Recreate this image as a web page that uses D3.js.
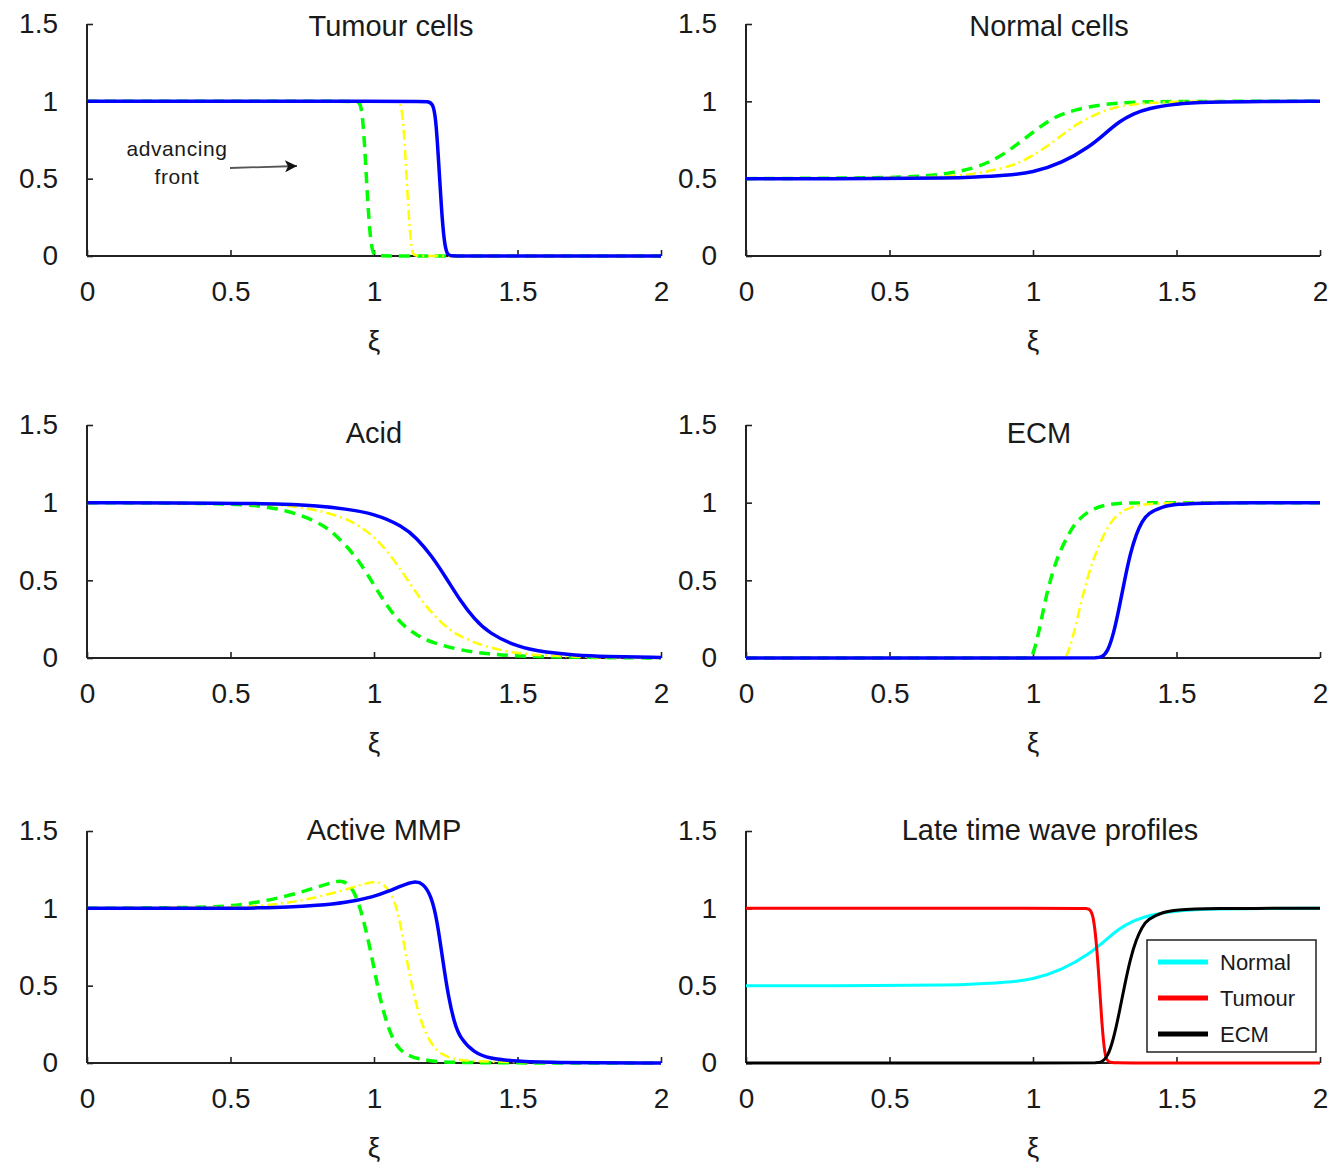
<!DOCTYPE html>
<html lang="en">
<head>
  <meta charset="UTF-8">
  <title>Travelling wave profiles</title>
  <style>
    body { margin: 0; background: #fff; }
    text { font-family: "Liberation Sans", Arial, sans-serif; fill: #1a1a1a; }
  </style>
</head>
<body>
  <div id="app"></div>
  <script src="https://cdn.jsdelivr.net/npm/d3@7"></script>
  <script>
    const xTicks = [0, 0.5, 1, 1.5, 2]
    const yTicks = [0, 0.5, 1, 1.5]
    const titles = ['Tumour cells', 'Normal cells', 'Acid', 'ECM', 'Active MMP', 'Late time wave profiles']
    const legendLabels = ['Normal', 'Tumour', 'ECM']

    // tumour cells
    const tumourEarly = [[0,1],[0.9,1],[0.94,1],[0.955,0.99],[0.965,0.8],[0.975,0.45],[0.985,0.15],[0.995,0.02],[1.005,0],[1.05,0],[2,0]]
    const tumourMid = [[0,1],[1.04,1],[1.08,1],[1.095,0.99],[1.105,0.8],[1.115,0.45],[1.125,0.15],[1.133,0.02],[1.14,0],[1.19,0],[2,0]]
    const tumourLate = [[0,1],[1.15,1],[1.19,1],[1.205,0.985],[1.215,0.9],[1.225,0.62],[1.235,0.3],[1.245,0.08],[1.255,0.01],[1.265,0],[1.3,0],[2,0]]

    // normal cells
    const normalEarly = [[0,0.5],[0.5,0.505],[0.6,0.515],[0.7,0.53],[0.8,0.57],[0.85,0.61],[0.9,0.66],[0.95,0.73],[1.0,0.8],[1.05,0.87],[1.1,0.92],[1.2,0.97],[1.3,0.99],[1.4,1],[2,1]]
    const normalMid = [[0,0.5],[0.6,0.505],[0.7,0.515],[0.8,0.53],[0.9,0.57],[0.95,0.6],[1.0,0.65],[1.05,0.71],[1.1,0.78],[1.15,0.85],[1.2,0.9],[1.25,0.94],[1.3,0.97],[1.4,0.99],[1.5,1],[2,1]]
    const normalLate = [[0,0.5],[0.5,0.5],[0.7,0.503],[0.8,0.51],[0.9,0.52],[1.0,0.54],[1.1,0.6],[1.2,0.71],[1.25,0.79],[1.3,0.87],[1.35,0.92],[1.4,0.955],[1.5,0.985],[1.6,0.995],[1.8,1],[2,1]]

    // acid
    const acidEarly = [[0,1],[0.5,0.995],[0.6,0.98],[0.7,0.95],[0.8,0.88],[0.85,0.82],[0.9,0.73],[0.95,0.62],[1.0,0.47],[1.05,0.32],[1.1,0.21],[1.15,0.145],[1.2,0.1],[1.3,0.05],[1.4,0.025],[1.5,0.012],[1.7,0.004],[2,0]]
    const acidMid = [[0,1],[0.6,0.995],[0.7,0.98],[0.8,0.955],[0.9,0.9],[0.95,0.85],[1.0,0.78],[1.05,0.68],[1.1,0.55],[1.15,0.41],[1.2,0.29],[1.25,0.2],[1.3,0.135],[1.4,0.065],[1.5,0.03],[1.6,0.014],[1.8,0.004],[2,0]]
    const acidLate = [[0,1],[0.5,0.998],[0.7,0.99],[0.8,0.98],[0.9,0.96],[1.0,0.93],[1.1,0.85],[1.15,0.77],[1.2,0.66],[1.25,0.52],[1.3,0.37],[1.35,0.25],[1.4,0.16],[1.5,0.07],[1.6,0.035],[1.7,0.018],[1.8,0.01],[2,0.003]]

    // ECM
    const ecmEarly = [[0,0],[0.95,0],[0.99,0],[1.0,0.02],[1.02,0.16],[1.04,0.35],[1.06,0.5],[1.08,0.62],[1.1,0.71],[1.125,0.8],[1.15,0.88],[1.2,0.955],[1.25,0.985],[1.3,0.997],[1.4,1],[2,1]]
    const ecmMid = [[0,0],[1.07,0],[1.11,0],[1.12,0.02],[1.14,0.14],[1.16,0.3],[1.18,0.45],[1.2,0.58],[1.22,0.68],[1.25,0.81],[1.28,0.9],[1.32,0.96],[1.38,0.99],[1.45,1],[2,1]]
    const ecmLate = [[0,0],[1.18,0],[1.22,0],[1.24,0.005],[1.26,0.04],[1.28,0.15],[1.3,0.32],[1.32,0.51],[1.34,0.68],[1.36,0.8],[1.38,0.88],[1.4,0.93],[1.45,0.975],[1.5,0.99],[1.6,1],[2,1]]

    // active MMP
    const mmpEarly = [[0,1],[0.4,1.005],[0.5,1.015],[0.6,1.04],[0.7,1.08],[0.8,1.135],[0.85,1.165],[0.88,1.18],[0.91,1.165],[0.94,1.08],[0.97,0.88],[1.0,0.62],[1.02,0.42],[1.05,0.22],[1.08,0.1],[1.12,0.04],[1.2,0.01],[1.3,0],[2,0]]
    const mmpMid = [[0,1],[0.5,1.005],[0.6,1.015],[0.7,1.035],[0.8,1.07],[0.9,1.12],[0.95,1.15],[1.0,1.175],[1.03,1.165],[1.06,1.1],[1.08,1.0],[1.1,0.82],[1.12,0.6],[1.15,0.35],[1.18,0.18],[1.22,0.07],[1.27,0.025],[1.35,0.005],[2,0]]
    const mmpLate = [[0,1],[0.5,1],[0.6,1.003],[0.7,1.008],[0.8,1.018],[0.9,1.035],[1.0,1.075],[1.05,1.11],[1.1,1.15],[1.14,1.175],[1.17,1.165],[1.2,1.08],[1.22,0.92],[1.24,0.66],[1.26,0.42],[1.28,0.26],[1.3,0.16],[1.35,0.065],[1.4,0.03],[1.5,0.01],[1.6,0.003],[2,0]]

    // late time profiles
    const lateNormal = normalLate
    const lateTumour = [[0,1],[1.15,1],[1.19,1],[1.2,0.99],[1.21,0.95],[1.22,0.8],[1.23,0.55],[1.24,0.25],[1.25,0.05],[1.26,0],[1.3,0],[2,0]]
    const lateEcm = ecmLate

    const styles = {
      early: { color: '#00ff00', width: 3.5, dash: '11,7' },
      mid: { color: '#ffff00', width: 2.5, dash: '10,4,2,4' },
      late: { color: '#0000ff', width: 3.5, dash: null },
      cyan: { color: '#00ffff', width: 3, dash: null },
      red: { color: '#ff0000', width: 3, dash: null },
      black: { color: '#000000', width: 3, dash: null },
    }

    const panels = [
      { col: 0, row: 0, title: titles[0], tx: 391, series: [[tumourEarly, 'early'], [tumourMid, 'mid'], [tumourLate, 'late']] },
      { col: 1, row: 0, title: titles[1], tx: 1049, series: [[normalEarly, 'early'], [normalMid, 'mid'], [normalLate, 'late']] },
      { col: 0, row: 1, title: titles[2], tx: 374, series: [[acidEarly, 'early'], [acidMid, 'mid'], [acidLate, 'late']] },
      { col: 1, row: 1, title: titles[3], tx: 1039, series: [[ecmEarly, 'early'], [ecmMid, 'mid'], [ecmLate, 'late']] },
      { col: 0, row: 2, title: titles[4], tx: 384, series: [[mmpEarly, 'early'], [mmpMid, 'mid'], [mmpLate, 'late']] },
      { col: 1, row: 2, title: titles[5], tx: 1050, series: [[lateNormal, 'cyan'], [lateTumour, 'red'], [lateEcm, 'black']] },
    ]

    const colX = [87, 746]
    const rowTop = [24, 425, 831]
    const rowBottom = [256, 658, 1063]
    const titleY = [36, 443, 840]
    const plotW = 574

    const svg = d3.select('#app').append('svg')
      .attr('width', 1336)
      .attr('height', 1166)

    svg.append('defs').append('marker')
      .attr('id', 'arrow')
      .attr('viewBox', '0 0 10 10')
      .attr('refX', 10).attr('refY', 5)
      .attr('markerWidth', 20).attr('markerHeight', 12)
      .attr('markerUnits', 'userSpaceOnUse')
      .attr('orient', 'auto')
      .append('path')
      .attr('d', 'M0,0 L10,5 L0,10 L2.5,5 Z')
      .attr('fill', '#111')

    panels.forEach((p, pi) => {
      const x0 = colX[p.col]
      const x = d3.scaleLinear().domain([0, 2]).range([x0, x0 + plotW])
      const y = d3.scaleLinear().domain([0, 1.5]).range([rowBottom[p.row], rowTop[p.row]])
      const g = svg.append('g')

      g.append('clipPath').attr('id', 'clip' + pi)
        .append('rect')
        .attr('x', x0 - 2).attr('y', rowTop[p.row] - 2)
        .attr('width', plotW + 4).attr('height', rowBottom[p.row] - rowTop[p.row] + 6)

      // axes, ticks inward
      const xAxis = g.append('g')
        .attr('transform', `translate(0,${rowBottom[p.row]})`)
        .call(d3.axisBottom(x).tickValues(xTicks).tickSize(-6).tickPadding(25).tickFormat(d3.format('')))
      const yAxis = g.append('g')
        .attr('transform', `translate(${x0},0)`)
        .call(d3.axisLeft(y).tickValues(yTicks).tickSize(-6).tickPadding(29).tickFormat(d3.format('')))
      ;[xAxis, yAxis].forEach(a => {
        a.select('.domain').attr('stroke', '#222').attr('stroke-width', 2)
        a.selectAll('.tick line').attr('stroke', '#222').attr('stroke-width', 1.6)
        a.selectAll('.tick text')
          .attr('font-size', 28)
          .attr('font-family', '"Liberation Sans", Arial, sans-serif')
          .attr('fill', '#1a1a1a')
      })
      xAxis.select('.domain').attr('d', `M${x0},0H${x0 + plotW}`)
      yAxis.select('.domain').attr('d', `M0,${rowTop[p.row]}V${rowBottom[p.row]}`)

      // axis label
      g.append('text')
        .attr('x', x(1)).attr('y', rowBottom[p.row] + 94)
        .attr('text-anchor', 'middle')
        .attr('font-size', 28)
        .text('ξ')

      // title
      g.append('text')
        .attr('x', p.tx).attr('y', titleY[p.row])
        .attr('text-anchor', 'middle')
        .attr('font-size', 29)
        .text(p.title)

      const line = d3.line()
        .x(d => x(d[0]))
        .y(d => y(d[1]))
        .curve(d3.curveBasis)

      const lines = g.append('g').attr('clip-path', `url(#clip${pi})`)
      p.series.forEach(([data, key]) => {
        const s = styles[key]
        lines.append('path')
          .datum(data)
          .attr('d', line)
          .attr('fill', 'none')
          .attr('stroke', s.color)
          .attr('stroke-width', s.width)
          .attr('stroke-dasharray', s.dash)
          .attr('stroke-linejoin', 'round')
      })

      if (pi === 0) {
        g.append('text').attr('x', 177).attr('y', 156).attr('text-anchor', 'middle')
          .attr('font-size', 21).attr('letter-spacing', 0.6).text('advancing')
        g.append('text').attr('x', 177).attr('y', 184).attr('text-anchor', 'middle')
          .attr('font-size', 21).attr('letter-spacing', 0.6).text('front')
        g.append('line')
          .attr('x1', 230).attr('y1', 168).attr('x2', 297).attr('y2', 166)
          .attr('stroke', '#555').attr('stroke-width', 1.8)
          .attr('marker-end', 'url(#arrow)')
      }

      if (pi === 5) {
        const lg = g.append('g').attr('transform', 'translate(1147,940)')
        lg.append('rect')
          .attr('width', 169).attr('height', 112)
          .attr('fill', '#fff').attr('stroke', '#222').attr('stroke-width', 1.5)
        const legendStyles = ['cyan', 'red', 'black']
        legendLabels.forEach((lab, i) => {
          const yy = 22 + i * 36
          lg.append('line')
            .attr('x1', 11).attr('x2', 61).attr('y1', yy).attr('y2', yy)
            .attr('stroke', styles[legendStyles[i]].color).attr('stroke-width', 5)
          lg.append('text')
            .attr('x', 73).attr('y', yy + 8)
            .attr('font-size', 22)
            .text(lab)
        })
      }
    })
  </script>
</body>
</html>
